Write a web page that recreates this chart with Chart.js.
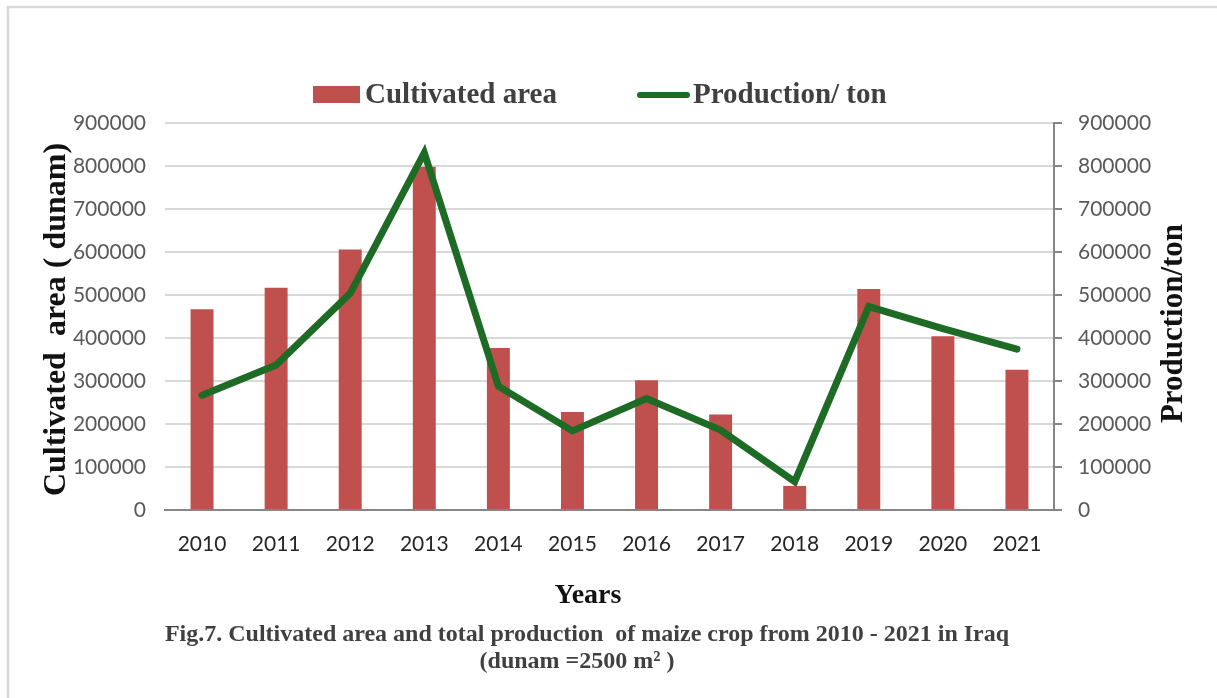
<!DOCTYPE html>
<html>
<head>
<meta charset="utf-8">
<title>Maize crop in Iraq 2010-2021</title>
<script src="https://cdn.jsdelivr.net/npm/chart.js@4.4.1/dist/chart.umd.min.js"></script>
<style>
  html, body { margin: 0; padding: 0; background: #ffffff; }
  #wrap { position: relative; width: 1217px; height: 698px; }
</style>
</head>
<body>
<div id="wrap"><canvas id="chart"></canvas></div>
<script>
// Years on the category axis
const years = ['2010', '2011', '2012', '2013', '2014', '2015', '2016', '2017', '2018', '2019', '2020', '2021'];
// Cultivated area, dunam
const cultivatedArea = [467000, 517000, 606000, 798000, 377000, 228000, 302000, 222000, 56000, 514000, 404000, 326000];
// Production, ton
const production = [267000, 337000, 504000, 831000, 288000, 184000, 259000, 186000, 66000, 473000, 422000, 374000];
// Value axis range (both axes share it)
const axisMin = 0;
const axisMax = 900000;
const axisStep = 100000;

const seriesNames = ['Cultivated area', 'Production/ ton'];
const leftTitle = 'Cultivated  area ( dunam)';
const rightTitle = 'Production/ton';
const xTitle = 'Years';
const captionLines = [
  'Fig.7. Cultivated area and total production  of maize crop from 2010 - 2021 in Iraq',
  '(dunam =2500 m\u00B2 )'
];

const RED = '#c0504d';
const GREEN = '#1d6b24';
const AXIS_GREY = '#868686';
const SERIF = '"Liberation Serif", "Times New Roman", serif';
const TICK_FONT = { family: 'Lato, "Open Sans", sans-serif', size: 21 };
const plainNumber = (v) => String(v);

// Frame, legend, titles and caption drawn around the plot
const decor = {
  id: 'decor',
  beforeDraw(chart) {
    const ctx = chart.ctx;
    ctx.save();
    ctx.strokeStyle = '#d9d9d9';
    ctx.lineWidth = 2.5;
    ctx.beginPath();
    ctx.moveTo(8, 698);
    ctx.lineTo(8, 7);
    ctx.lineTo(1217, 7);
    ctx.stroke();
    ctx.restore();
  },
  afterDraw(chart) {
    const ctx = chart.ctx;
    const ds = chart.data.datasets;
    const area = chart.chartArea;
    ctx.save();

    // category axis line runs on under the right-hand tick marks
    ctx.strokeStyle = AXIS_GREY;
    ctx.lineWidth = 2;
    ctx.beginPath();
    ctx.moveTo(area.right, area.bottom);
    ctx.lineTo(area.right + 8, area.bottom);
    ctx.stroke();

    // legend
    ctx.font = 'bold 29px ' + SERIF;
    ctx.textBaseline = 'alphabetic';
    ctx.textAlign = 'left';
    ctx.fillStyle = ds[0].backgroundColor;
    ctx.fillRect(313, 86, 47, 17);
    ctx.fillStyle = '#404040';
    ctx.fillText(ds[0].label, 365, 103);

    ctx.strokeStyle = ds[1].borderColor;
    ctx.lineWidth = 6;
    ctx.lineCap = 'round';
    ctx.beginPath();
    ctx.moveTo(640, 95);
    ctx.lineTo(687, 95);
    ctx.stroke();
    ctx.fillStyle = '#404040';
    ctx.fillText(ds[1].label, 693, 103);

    // axis titles
    const midY = (area.top + area.bottom) / 2;
    ctx.fillStyle = '#111111';
    ctx.textAlign = 'center';
    ctx.textBaseline = 'middle';

    ctx.save();
    ctx.translate(57, midY + 3);
    ctx.rotate(-Math.PI / 2);
    ctx.font = 'bold 32px ' + SERIF;
    ctx.fillText(leftTitle, 0, 0);
    ctx.restore();

    ctx.save();
    ctx.translate(1174, midY + 7);
    ctx.rotate(-Math.PI / 2);
    ctx.font = 'bold 31px ' + SERIF;
    ctx.fillText(rightTitle, 0, 0);
    ctx.restore();

    ctx.textBaseline = 'alphabetic';
    ctx.font = 'bold 28px ' + SERIF;
    ctx.fillText(xTitle, 588, 603);

    // caption
    ctx.fillStyle = '#404040';
    ctx.font = 'bold 24px ' + SERIF;
    ctx.fillText(captionLines[0], 587, 641);
    ctx.fillText(captionLines[1], 577, 668);

    ctx.restore();
  }
};

new Chart(document.getElementById('chart'), {
  data: {
    labels: years,
    datasets: [
      {
        type: 'bar',
        label: seriesNames[0],
        data: cultivatedArea,
        backgroundColor: RED,
        yAxisID: 'y',
        barPercentage: 0.31,
        categoryPercentage: 1,
        order: 1
      },
      {
        type: 'line',
        label: seriesNames[1],
        data: production,
        borderColor: GREEN,
        backgroundColor: GREEN,
        borderWidth: 7,
        borderCapStyle: 'round',
        pointRadius: 0,
        tension: 0,
        yAxisID: 'y2',
        order: 0
      }
    ]
  },
  options: {
    responsive: true,
    maintainAspectRatio: false,
    animation: false,
    events: [],
    layout: { padding: { top: 123, left: 0, right: 0, bottom: 0 } },
    plugins: {
      legend: { display: false },
      title: { display: false },
      tooltip: { enabled: false }
    },
    scales: {
      x: {
        type: 'category',
        offset: true,
        grid: { display: false, drawTicks: false },
        border: { display: true, color: AXIS_GREY, width: 2 },
        ticks: { font: TICK_FONT, color: '#262626', padding: 22, maxRotation: 0 },
        afterFit(scale) { scale.height = 188; }
      },
      y: {
        type: 'linear',
        position: 'left',
        min: axisMin,
        max: axisMax,
        grid: { color: '#d9d9d9', lineWidth: 2, drawTicks: false },
        border: { display: false },
        ticks: { stepSize: axisStep, font: TICK_FONT, color: '#595959', padding: 19, callback: plainNumber },
        afterFit(scale) { scale.width = 165; }
      },
      y2: {
        type: 'linear',
        position: 'right',
        min: axisMin,
        max: axisMax,
        grid: { drawOnChartArea: false, drawTicks: true, tickLength: 8, color: AXIS_GREY, lineWidth: 2 },
        border: { display: true, color: AXIS_GREY, width: 2 },
        ticks: { stepSize: axisStep, font: TICK_FONT, color: '#595959', padding: 16, callback: plainNumber },
        afterFit(scale) { scale.width = 163; }
      }
    }
  },
  plugins: [decor]
});
</script>
</body>
</html>
